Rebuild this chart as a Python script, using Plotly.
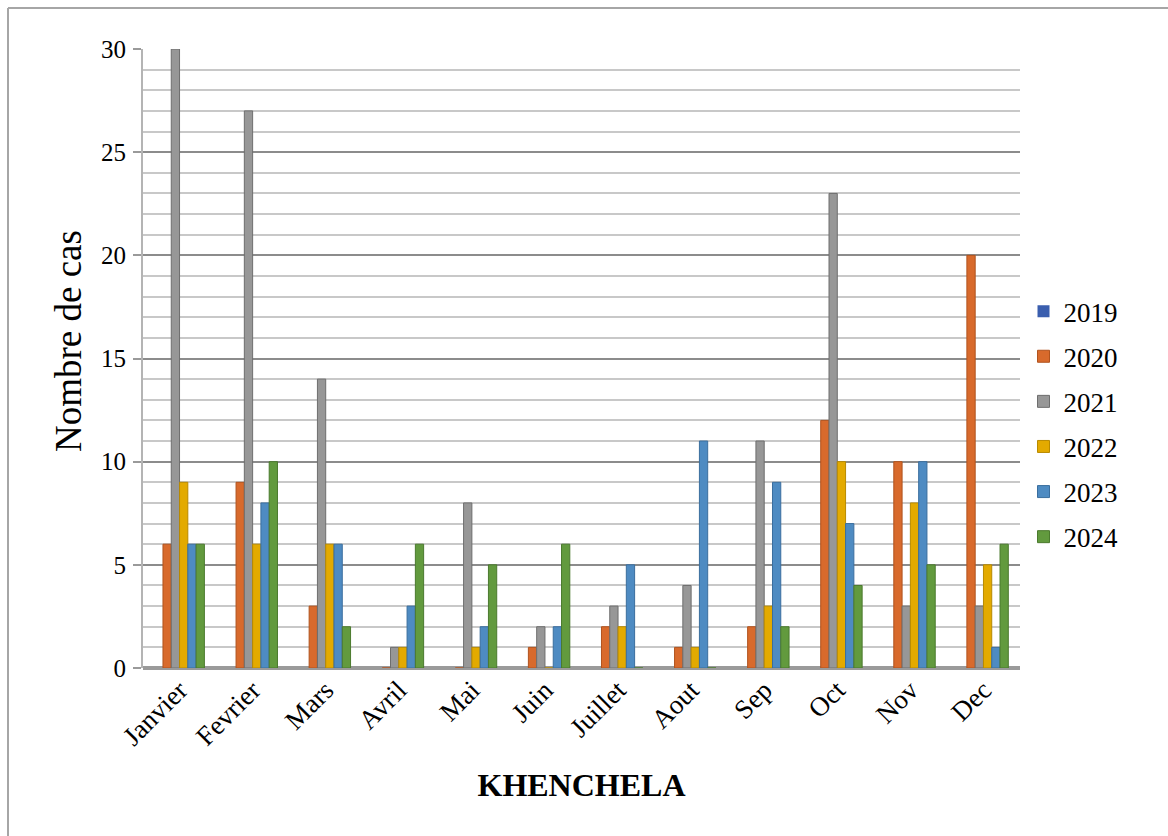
import plotly.graph_objects as go

# Monthly case counts for Khenchela, by year
months = ["Janvier", "Fevrier", "Mars", "Avril", "Mai", "Juin",
          "Juillet", "Aout", "Sep", "Oct", "Nov", "Dec"]
years = ["2019", "2020", "2021", "2022", "2023", "2024"]

cases_2019 = [0, 0, 0, 0, 0, 0, 0, 0, 0, 0, 0, 0]
cases_2020 = [6, 9, 3, 0, 0, 1, 2, 1, 2, 12, 10, 20]
cases_2021 = [30, 27, 14, 1, 8, 2, 3, 4, 11, 23, 3, 3]
cases_2022 = [9, 6, 6, 1, 1, 0, 2, 1, 3, 10, 8, 5]
cases_2023 = [6, 8, 6, 3, 2, 2, 5, 11, 9, 7, 10, 1]
cases_2024 = [6, 10, 2, 6, 5, 6, 0, 0, 2, 4, 5, 6]

series = [cases_2019, cases_2020, cases_2021, cases_2022, cases_2023, cases_2024]
fills = ["#3A5EAE", "#D86A2C", "#979797", "#E3AA00", "#4E8BC2", "#629A3E"]
edges = ["#2C4A8C", "#B0531E", "#6E6E6E", "#B88A00", "#3A6E9E", "#4B7A2E"]

# Plot-area geometry in pixels (used to place the frame and axis title)
L, R, T, B = 143, 148, 49, 168
W, H = 1168, 836
pw, ph = W - L - R, H - T - B

def px_x(x):
    return (x - L) / pw

def px_y(y):
    return (H - B - y) / ph

fig = go.Figure()
for yr, vals, fc, ec in zip(years, series, fills, edges):
    fig.add_trace(go.Bar(
        name=yr, x=months, y=vals, legendgroup=yr,
        marker=dict(color=fc, line=dict(color=ec, width=0 if yr == "2019" else 1)),
    ))

serif = "Liberation Serif, Times New Roman, serif"

fig.update_layout(
    width=W, height=H,
    margin=dict(l=L, r=R, t=T, b=B, pad=0),
    paper_bgcolor="white", plot_bgcolor="white",
    barmode="group", bargap=0.32, bargroupgap=0,
    font=dict(family=serif, color="black"),
    legend=dict(
        x=1.004, xanchor="left", y=0.394, yanchor="middle",
        font=dict(size=27, family=serif),
        traceorder="grouped", tracegroupgap=7,
        bgcolor="rgba(0,0,0,0)",
    ),
    xaxis=dict(
        tickangle=-45, tickfont=dict(size=27, family=serif),
        showgrid=False, showline=False, ticks="",
        title=dict(text="<b>KHENCHELA</b>", font=dict(size=32, family=serif), standoff=23),
    ),
    yaxis=dict(
        range=[0, 30], dtick=5, tick0=0,
        tickfont=dict(size=25, family=serif), ticklabelstandoff=2,
        showgrid=True, gridcolor="#8C8C8C", gridwidth=2,
        minor=dict(dtick=1, showgrid=True, gridcolor="#C8C8C8", gridwidth=2, ticks=""),
        showline=True, linecolor="#B4B4B4", linewidth=2,
        ticks="outside", ticklen=8, tickcolor="#9A9A9A", tickwidth=2,
        zeroline=True, zerolinecolor="#9A9A9A", zerolinewidth=4,
    ),
)

# Y-axis title
fig.add_annotation(
    text="Nombre de cas", textangle=-90, showarrow=False,
    xref="paper", yref="paper", x=px_x(68), y=px_y(341),
    xanchor="center", yanchor="middle",
    font=dict(size=37, family=serif, color="black"),
)

# Page frame: top and left edges
fig.add_shape(type="line", xref="paper", yref="paper",
              x0=px_x(8), x1=px_x(W), y0=px_y(8), y1=px_y(8),
              line=dict(color="#A6A6A6", width=2))
fig.add_shape(type="line", xref="paper", yref="paper",
              x0=px_x(8), x1=px_x(8), y0=px_y(8), y1=px_y(H),
              line=dict(color="#A6A6A6", width=2))

fig.write_html("out.html")
